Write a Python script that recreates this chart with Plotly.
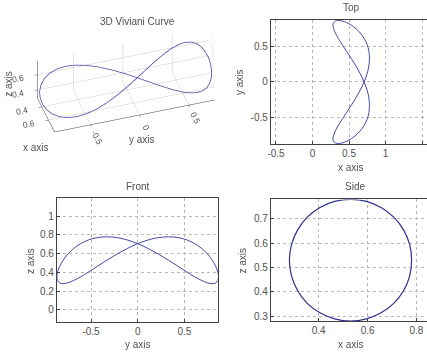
import plotly.graph_objects as go

# Viviani curve samples (one closed loop)
x_vals = [0.707, 0.655, 0.595, 0.530, 0.465, 0.405, 0.353, 0.314, 0.289, 0.280, 0.289, 0.314,
          0.353, 0.405, 0.465, 0.530, 0.595, 0.655, 0.707, 0.747, 0.772, 0.780, 0.772, 0.747,
          0.707, 0.655, 0.595, 0.530, 0.465, 0.405, 0.353, 0.314, 0.289, 0.280, 0.289, 0.314,
          0.353, 0.405, 0.465, 0.530, 0.595, 0.655, 0.707, 0.747, 0.772, 0.780, 0.772, 0.747,
          0.707]
y_vals = [0.000, 0.113, 0.224, 0.331, 0.433, 0.527, 0.612, 0.687, 0.750, 0.800, 0.836, 0.859,
          0.866, 0.859, 0.836, 0.800, 0.750, 0.687, 0.612, 0.527, 0.433, 0.331, 0.224, 0.113,
          0.000, -0.113, -0.224, -0.331, -0.433, -0.527, -0.612, -0.687, -0.750, -0.800, -0.836, -0.859,
          -0.866, -0.859, -0.836, -0.800, -0.750, -0.687, -0.612, -0.527, -0.433, -0.331, -0.224, -0.113,
          0.000]
z_vals = [0.707, 0.747, 0.772, 0.780, 0.772, 0.747, 0.707, 0.655, 0.595, 0.530, 0.465, 0.405,
          0.353, 0.314, 0.289, 0.280, 0.289, 0.314, 0.353, 0.405, 0.465, 0.530, 0.595, 0.655,
          0.707, 0.747, 0.772, 0.780, 0.772, 0.747, 0.707, 0.655, 0.595, 0.530, 0.465, 0.405,
          0.353, 0.314, 0.289, 0.280, 0.289, 0.314, 0.353, 0.405, 0.465, 0.530, 0.595, 0.655,
          0.707]

top_x_ticks = [-0.5, 0, 0.5, 1, 1.5]
top_y_ticks = [-0.5, 0, 0.5]
front_x_ticks = [-0.5, 0, 0.5]
front_y_ticks = [0, 0.2, 0.4, 0.6, 0.8, 1]
side_x_ticks = [0.4, 0.6, 0.8]
side_y_ticks = [0.3, 0.4, 0.5, 0.6, 0.7]
d3_x_ticks = [0.4, 0.6]
d3_y_ticks = [-0.5, 0, 0.5]
d3_z_ticks = [0.4, 0.6]

W, H = 427, 356
BLUE = "#4646a8"
FONT = "Liberation Sans, Arial, sans-serif"
TXT = "#505050"


def lbl(v):
    return ("%g" % v)


def px(x):
    return x / W


def py(y):
    return 1 - y / H


fig = go.Figure()
fig.add_trace(go.Scatter3d(x=x_vals, y=y_vals, z=z_vals, mode="lines",
                           line=dict(color=BLUE, width=1.5), scene="scene", showlegend=False))
fig.add_trace(go.Scatter(x=x_vals, y=y_vals, xaxis="x2", yaxis="y2", mode="lines",
                         line=dict(color=BLUE, width=1, shape="spline"), showlegend=False))
fig.add_trace(go.Scatter(x=y_vals, y=z_vals, xaxis="x3", yaxis="y3", mode="lines",
                         line=dict(color=BLUE, width=1, shape="spline"), showlegend=False))
fig.add_trace(go.Scatter(x=x_vals, y=z_vals, xaxis="x4", yaxis="y4", mode="lines",
                         line=dict(color="#303090", width=1.2, shape="spline"), showlegend=False))


def ax(domain, rng, ticks, anchor, mirror):
    return dict(domain=domain, range=rng, tickvals=ticks, ticktext=[lbl(t) for t in ticks],
                anchor=anchor, showgrid=True, gridcolor="#b8b8b8", griddash="dot", gridwidth=1,
                zeroline=False, showline=True, linecolor="#404040", linewidth=1, mirror=mirror,
                ticks="inside", ticklen=3, tickcolor="#404040",
                tickfont=dict(family=FONT, size=10, color=TXT))


layout = dict(
    width=W, height=H, margin=dict(l=0, r=0, t=0, b=0),
    paper_bgcolor="white", plot_bgcolor="white", showlegend=False,
    xaxis2=ax([px(269.7), 1.0], [-0.571, 1.568], top_x_ticks, "y2", True),
    yaxis2=ax([py(144.3), py(20)], [-0.872, 0.872], top_y_ticks, "x2", False),
    xaxis3=ax([px(54.3), px(217)], [-0.866, 0.866], front_x_ticks, "y3", True),
    yaxis3=ax([py(323.3), py(198.7)], [-0.133, 1.193], front_y_ticks, "x3", True),
    xaxis4=ax([px(269.7), 1.0], [0.204, 0.843], side_x_ticks, "y4", True),
    yaxis4=ax([py(322), py(200)], [0.28, 0.78], side_y_ticks, "x4", False),
)

axis3d = dict(showbackground=False, gridcolor="#cccccc", gridwidth=1, showline=True,
              linecolor="#404040", zeroline=False, ticks="outside", ticklen=3,
              tickfont=dict(family=FONT, size=10, color=TXT),
              showspikes=False, title=dict(text=""))
layout["scene"] = dict(
    domain=dict(x=[0, 0.5], y=[py(156), py(26)]),
    xaxis=dict(axis3d, range=[0.28, 0.78], tickvals=d3_x_ticks, ticktext=[lbl(t) for t in d3_x_ticks]),
    yaxis=dict(axis3d, range=[-0.866, 0.866], tickvals=d3_y_ticks, ticktext=[lbl(t) for t in d3_y_ticks]),
    zaxis=dict(axis3d, range=[0.28, 0.78], tickvals=d3_z_ticks, ticktext=[lbl(t) for t in d3_z_ticks]),
    aspectmode="manual", aspectratio=dict(x=0.85, y=2.75, z=0.75),
    camera=dict(eye=dict(x=1.32, y=-0.78, z=0.98), up=dict(x=0, y=0, z=1),
                center=dict(x=0, y=-0.36, z=-0.14), projection=dict(type="orthographic")),
)

ann = []


def text(x, y, s, size=10, angle=0):
    ann.append(dict(x=px(x), y=py(y), xref="paper", yref="paper", text=s, showarrow=False,
                    textangle=angle, xanchor="center", yanchor="middle",
                    font=dict(family=FONT, size=size, color=TXT)))


text(135, 22, "3D Viviani Curve", 10)
text(6, 84, "z axis", angle=-90)
text(33, 148, "x axis")
text(140, 140, "y axis")
text(351, 8, "Top", 10)
text(136, 187, "Front", 10)
text(354, 187, "Side", 10)
text(350, 168, "x axis")
text(238, 82, "y axis", angle=-90)
text(136, 345, "y axis")
text(27, 262, "z axis", angle=-90)
text(350, 345, "x axis")
text(241, 261, "z axis", angle=-90)
layout["annotations"] = ann

fig.update_layout(**layout)
fig.write_html("out.html", config={"displayModeBar": False},
               post_script="document.body.style.margin='0';document.body.style.overflow='hidden';")
